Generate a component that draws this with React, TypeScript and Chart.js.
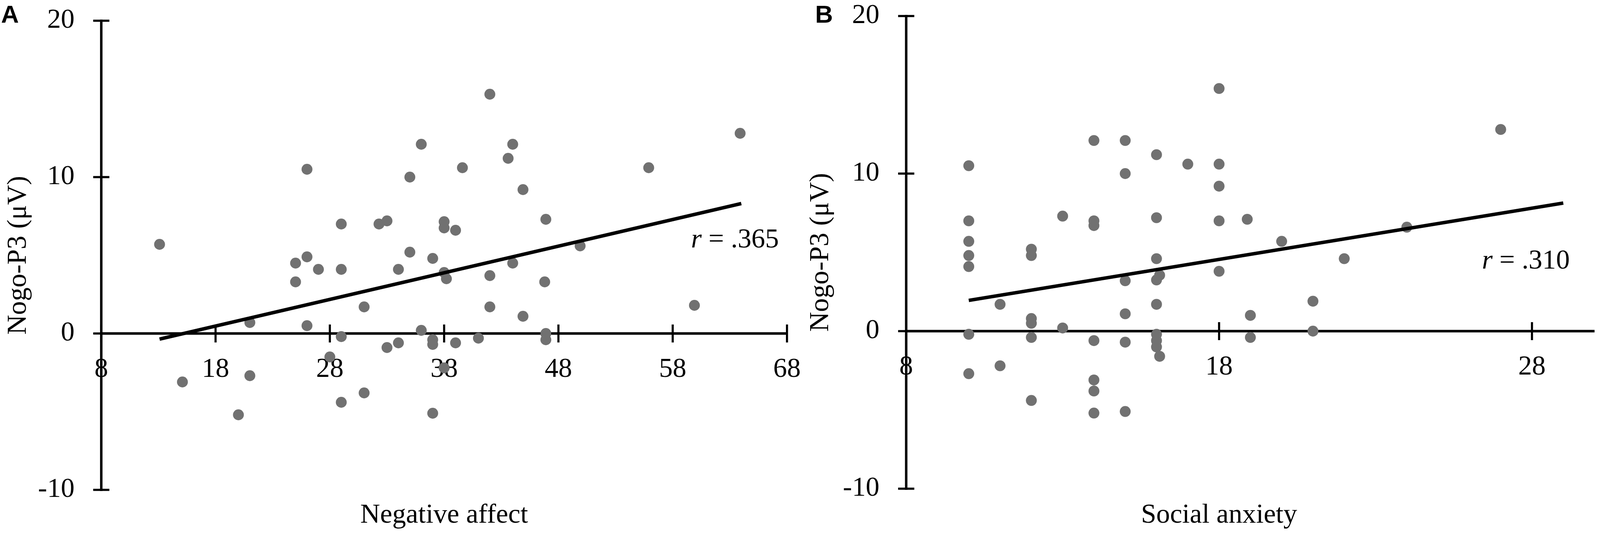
import { useEffect, useRef } from 'react';
import { Chart, registerables } from 'chart.js';

Chart.register(...registerables);

document.body.style.margin = '0';

// Panel A: negative affect vs Nogo-P3
const AFFECT_X = [
  13.1, 15.1, 21.0, 21.0, 20.0, 26.0, 25.0, 26.0, 25.0, 27.0, 26.0, 29.0, 29.0, 29.0,
  28.0, 29.0, 31.0, 31.0, 32.3, 33.0, 33.0, 34.0, 34.0, 35.0, 35.0, 36.0, 36.0, 37.0,
  37.0, 37.0, 37.0, 38.0, 38.0, 38.0, 38.2, 38.0, 39.0, 39.0, 39.6, 41.0, 42.0, 42.0,
  42.0, 43.6, 44.0, 44.0, 44.9, 44.9, 46.9, 46.8, 46.9, 46.9, 49.9, 55.9, 59.9, 63.9,
];
const AFFECT_Y = [
  5.7, -3.1, 0.7, -2.7, -5.2, 10.5, 4.5, 4.9, 3.3, 4.1, 0.5, 7.0, 4.1, -0.2,
  -1.5, -4.4, 1.7, -3.8, 7.0, 7.2, -0.9, -0.6, 4.1, 10.0, 5.2, 12.1, 0.2, 4.8,
  -0.4, -0.7, -5.1, 7.15, 6.75, 3.9, 3.5, -2.2, 6.6, -0.6, 10.6, -0.3, 15.3, 3.7,
  1.7, 11.2, 12.1, 4.5, 9.2, 1.1, 7.3, 3.3, 0.0, -0.4, 5.6, 10.6, 1.8, 12.8,
];
const AFFECT_FIT_X = [13.1, 64.0];
const AFFECT_FIT_Y = [-0.36, 8.31];
const AFFECT_X_TICKS = [8, 18, 28, 38, 48, 58, 68];

// Panel B: social anxiety vs Nogo-P3
const ANXIETY_X = [
  10, 10, 10, 10, 10, 10, 10,
  11, 11,
  12, 12, 12, 12, 12, 12,
  13, 13,
  14, 14, 14, 14, 14, 14, 14,
  15, 15, 15, 15, 15, 15,
  16, 16, 16, 16, 16.1, 16, 16, 16, 16, 16.1,
  17,
  18, 18, 18, 18, 18,
  18.9, 19, 19, 20, 21, 21, 22, 24, 27,
];
const ANXIETY_Y = [
  10.5, 7.0, 5.7, 4.8, 4.1, -0.2, -2.7,
  1.7, -2.2,
  5.2, 4.8, 0.8, 0.5, -0.4, -4.4,
  7.3, 0.2,
  12.1, 7.0, 6.7, -0.6, -3.1, -3.8, -5.2,
  12.1, 10.0, 3.2, 1.1, -0.7, -5.1,
  11.2, 7.2, 4.6, 3.25, 3.55, 1.7, -0.2, -0.6, -1.0, -1.6,
  10.6,
  15.4, 10.6, 9.2, 7.0, 3.8,
  7.1, 1.0, -0.4, 5.7, 1.9, 0.0, 4.6, 6.6, 12.8,
];
const ANXIETY_FIT_X = [10.0, 29.0];
const ANXIETY_FIT_Y = [1.95, 8.13];
const ANXIETY_X_TICKS = [8, 18, 28];

const Y_TICKS = [-10, 0, 10, 20];

const SERIF = '"Liberation Serif", "Times New Roman", serif';
const POINT_COLOR = '#717171';

// layout numbers are measured on the 4550x1371 figure; scale them to the real viewport
const SX = typeof window !== 'undefined' && window.innerWidth ? window.innerWidth / 4550 : 1;
const SY = typeof window !== 'undefined' && window.innerHeight ? window.innerHeight / 1371 : 1;
const sx = (v: number) => v * SX;
const sy = (v: number) => v * SY;

interface PanelProps {
  letter: string;
  letterX: number;
  xs: number[];
  ys: number[];
  fitX: number[];
  fitY: number[];
  xMin: number;
  xMax: number;
  xTicks: number[];
  xTitle: string;
  xTitleAt: number;
  rText: string;
  rAt: [number, number];
  axisLeft: number;
  titlePad: number;
  padding: { top: number; right: number; bottom: number };
}

const crossAxes = {
  id: 'crossAxes',
  beforeDatasetsDraw(chart: any) {
    const { ctx } = chart;
    const { x, y } = chart.scales;
    const x0 = x.getPixelForValue(x.min);
    const y0 = y.getPixelForValue(0);
    ctx.save();
    ctx.strokeStyle = '#000';
    ctx.lineWidth = sx(7);
    ctx.beginPath();
    ctx.moveTo(x0, y.getPixelForValue(y.max) - sy(3));
    ctx.lineTo(x0, y.getPixelForValue(y.min) + sy(3));
    ctx.moveTo(x0, y0);
    ctx.lineTo(x.getPixelForValue(x.max), y0);
    ctx.stroke();
    ctx.lineWidth = sx(6);
    ctx.beginPath();
    y.ticks.forEach((t: any) => {
      const py = y.getPixelForValue(t.value);
      ctx.moveTo(x0 - sx(23), py);
      ctx.lineTo(x0 + sx(23), py);
    });
    x.ticks.forEach((t: any) => {
      const p = x.getPixelForValue(t.value);
      ctx.moveTo(p, y0 - sy(23));
      ctx.lineTo(p, y0 + sy(23));
    });
    ctx.stroke();
    ctx.restore();
  },
  afterDraw(chart: any, _args: any, opts: any) {
    const { ctx } = chart;
    const { x, y } = chart.scales;
    ctx.save();
    ctx.fillStyle = '#000';
    ctx.textBaseline = 'alphabetic';

    ctx.font = `${sx(78)}px ${SERIF}`;
    ctx.textAlign = 'center';
    ctx.fillText(opts.xTitle, x.getPixelForValue(opts.xTitleAt), chart.height - sy(34));

    const rx = x.getPixelForValue(opts.rAt[0]);
    const ry = y.getPixelForValue(opts.rAt[1]);
    ctx.textAlign = 'left';
    ctx.font = `italic ${sx(78)}px ${SERIF}`;
    ctx.fillText('r', rx, ry);
    const rw = ctx.measureText('r').width;
    ctx.font = `${sx(78)}px ${SERIF}`;
    ctx.fillText(' = ' + opts.rText, rx + rw, ry);

    ctx.font = `bold ${sx(70)}px "Liberation Sans", Arial, sans-serif`;
    ctx.fillText(opts.letter, sx(opts.letterX), sy(58));
    ctx.restore();
  },
};

function Panel(props: PanelProps) {
  const canvasRef = useRef<HTMLCanvasElement>(null);
  const chartRef = useRef<Chart | null>(null);

  useEffect(() => {
    if (!canvasRef.current) return;
    if (chartRef.current) chartRef.current.destroy();

    const tickFont = { family: SERIF, size: sx(78) };

    chartRef.current = new Chart(canvasRef.current, {
      type: 'scatter',
      data: {
        datasets: [
          {
            label: 'fit',
            data: props.fitX.map((v, i) => ({ x: v, y: props.fitY[i] })),
            showLine: true,
            borderColor: '#000',
            borderWidth: sx(10),
            pointRadius: 0,
            order: 0,
          },
          {
            label: 'participants',
            data: props.xs.map((v, i) => ({ x: v, y: props.ys[i] })),
            backgroundColor: POINT_COLOR,
            borderWidth: 0,
            pointRadius: sx(15.5),
            order: 1,
          },
        ],
      },
      options: {
        animation: false,
        responsive: true,
        maintainAspectRatio: false,
        events: [],
        layout: {
          padding: {
            left: 0,
            top: sy(props.padding.top),
            right: sx(props.padding.right),
            bottom: sy(props.padding.bottom),
          },
        },
        plugins: {
          legend: { display: false },
          tooltip: { enabled: false },
          crossAxes: {
            xTitle: props.xTitle,
            xTitleAt: props.xTitleAt,
            rText: props.rText,
            rAt: props.rAt,
            letter: props.letter,
            letterX: props.letterX,
          },
        } as any,
        scales: {
          x: {
            type: 'linear',
            min: props.xMin,
            max: props.xMax,
            position: { y: 0 } as any,
            grid: { display: false, drawTicks: false },
            border: { display: false },
            ticks: { padding: sy(50), autoSkip: false, maxRotation: 0, color: '#000', font: tickFont },
            afterBuildTicks: (s: any) => { s.ticks = props.xTicks.map(v => ({ value: v })); },
            afterFit: (s: any) => { s.height = 0; s.paddingLeft = 0; s.paddingRight = 0; },
          },
          y: {
            type: 'linear',
            min: -10,
            max: 20,
            position: 'left',
            grid: { display: false, drawTicks: false },
            border: { display: false },
            ticks: { padding: sx(76), color: '#000', font: tickFont },
            afterBuildTicks: (s: any) => { s.ticks = Y_TICKS.map(v => ({ value: v })); },
            afterFit: (s: any) => { s.width = sx(props.axisLeft); s.paddingTop = 0; s.paddingBottom = 0; },
            title: {
              display: true,
              text: 'Nogo-P3 (μV)',
              color: '#000',
              font: tickFont,
              padding: { top: sx(props.titlePad), bottom: 0 },
            },
          },
        },
      },
      plugins: [crossAxes],
    });

    return () => { chartRef.current?.destroy(); };
  }, [props]);

  return (
    <div style={{ position: 'relative', width: '50%', height: '100%' }}>
      <canvas ref={canvasRef} />
    </div>
  );
}

const PANEL_A: PanelProps = {
  letter: 'A', letterX: 3,
  xs: AFFECT_X, ys: AFFECT_Y, fitX: AFFECT_FIT_X, fitY: AFFECT_FIT_Y,
  xMin: 8, xMax: 68, xTicks: AFFECT_X_TICKS,
  xTitle: 'Negative affect', xTitleAt: 38,
  rText: '.365', rAt: [59.6, 5.5],
  axisLeft: 288, titlePad: 6,
  padding: { top: 53, right: 37, bottom: 118 },
};

const PANEL_B: PanelProps = {
  letter: 'B', letterX: 43,
  xs: ANXIETY_X, ys: ANXIETY_Y, fitX: ANXIETY_FIT_X, fitY: ANXIETY_FIT_Y,
  xMin: 8, xMax: 30, xTicks: ANXIETY_X_TICKS,
  xTitle: 'Social anxiety', xTitleAt: 18,
  rText: '.310', rAt: [26.4, 3.97],
  axisLeft: 302, titlePad: 13,
  padding: { top: 41, right: 14, bottom: 121 },
};

export default function App() {
  return (
    <div style={{ display: 'flex', width: '100vw', height: '100vh', overflow: 'hidden', background: '#fff' }}>
      <Panel {...PANEL_A} />
      <Panel {...PANEL_B} />
    </div>
  );
}
